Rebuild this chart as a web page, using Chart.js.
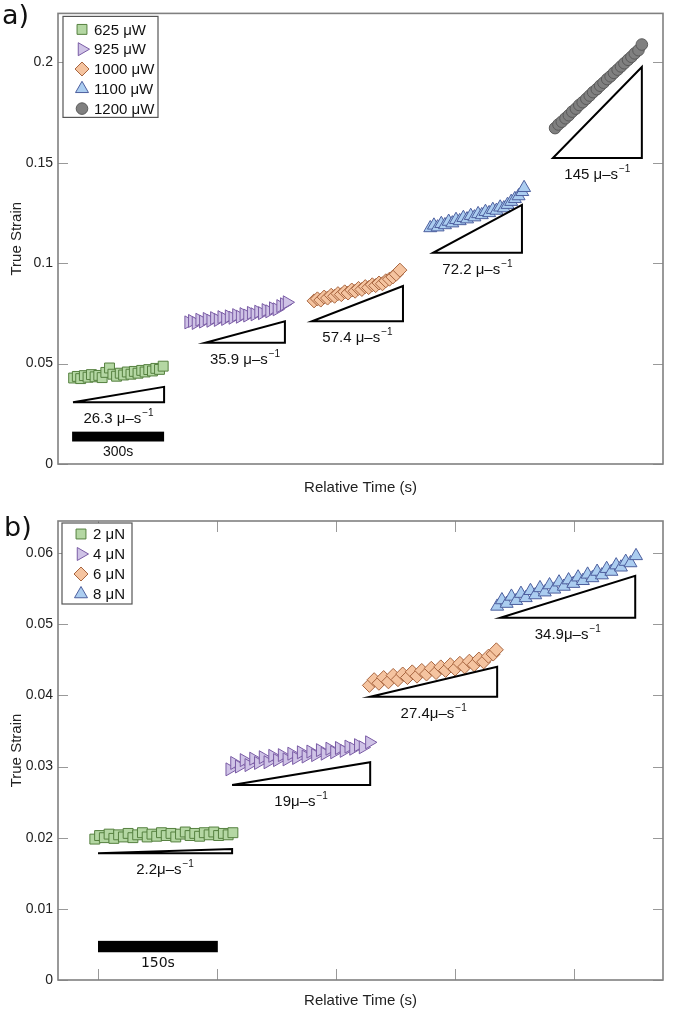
<!DOCTYPE html>
<html>
<head>
<meta charset="utf-8">
<script src="https://cdn.jsdelivr.net/npm/chart.js@4.4.1/dist/chart.umd.min.js"></script>
<style>
    html, body { margin: 0; padding: 0; background: #fff; }
    .panel { position: relative; width: 675px; }
    #wrapA { height: 500px; }
    #wrapB { height: 517px; }
    canvas { display: block; }
</style>
</head>
<body>
<div class="panel" id="wrapA"><canvas id="chartA" width="675" height="500"></canvas></div>
<div class="panel" id="wrapB"><canvas id="chartB" width="675" height="517"></canvas></div>
<script>
// ---------- panel a data (time in s, strain) ----------
const seriesA = ["625 \u03bcW", "925 \u03bcW", "1000 \u03bcW", "1100 \u03bcW", "1200 \u03bcW"];

const timeA625 = [5, 17, 28, 40, 52, 63, 75, 87, 98, 110, 122, 133, 145, 157, 168, 180, 192, 203, 215, 227, 238, 250, 262, 273, 285, 297];
const strainA625 = [0.0428, 0.0436, 0.0425, 0.0440, 0.0432, 0.0445, 0.0434, 0.0441, 0.0430, 0.0456, 0.0478, 0.0447, 0.0437, 0.0452, 0.0443, 0.0458, 0.0447, 0.0461, 0.0452, 0.0466, 0.0458, 0.0470, 0.0463, 0.0476, 0.0471, 0.0487];

const timeA925 = [380, 392, 404, 416, 428, 440, 452, 464, 476, 488, 500, 512, 524, 536, 548, 560, 572, 584, 596, 608, 620, 632, 644, 656, 668, 680, 692, 701];
const strainA925 = [0.0705, 0.0712, 0.0702, 0.0718, 0.0709, 0.0722, 0.0713, 0.0726, 0.0717, 0.0731, 0.0722, 0.0735, 0.0728, 0.0741, 0.0733, 0.0746, 0.0739, 0.0752, 0.0745, 0.0758, 0.0751, 0.0766, 0.0760, 0.0775, 0.0770, 0.0786, 0.0795, 0.0805];

const timeA1000 = [789, 800, 811, 822, 833, 845, 856, 867, 878, 889, 900, 912, 923, 934, 945, 956, 967, 979, 990, 1001, 1012, 1023, 1035, 1046, 1057, 1069];
const strainA1000 = [0.0812, 0.0822, 0.0816, 0.0831, 0.0826, 0.0840, 0.0835, 0.0848, 0.0843, 0.0857, 0.0851, 0.0866, 0.0860, 0.0874, 0.0869, 0.0883, 0.0878, 0.0892, 0.0888, 0.0901, 0.0897, 0.0912, 0.0920, 0.0931, 0.0945, 0.0965];

const timeA1100 = [1168, 1180, 1192, 1204, 1216, 1228, 1240, 1252, 1264, 1276, 1288, 1300, 1312, 1324, 1336, 1348, 1360, 1372, 1384, 1396, 1408, 1420, 1432, 1444, 1456, 1468, 1474];
const strainA1100 = [0.1175, 0.1188, 0.1179, 0.1196, 0.1190, 0.1207, 0.1199, 0.1216, 0.1210, 0.1226, 0.1219, 0.1236, 0.1229, 0.1245, 0.1240, 0.1256, 0.1250, 0.1266, 0.1262, 0.1278, 0.1274, 0.1291, 0.1306, 0.1320, 0.1334, 0.1355, 0.1375];

const timeA1200 = [1575, 1586, 1597, 1609, 1620, 1631, 1643, 1654, 1665, 1677, 1688, 1699, 1711, 1722, 1733, 1745, 1756, 1767, 1779, 1790, 1801, 1813, 1824, 1835, 1847, 1858];
const strainA1200 = [0.1672, 0.1690, 0.1704, 0.1721, 0.1736, 0.1754, 0.1769, 0.1787, 0.1801, 0.1818, 0.1834, 0.1851, 0.1866, 0.1883, 0.1898, 0.1916, 0.1930, 0.1947, 0.1963, 0.1979, 0.1995, 0.2012, 0.2027, 0.2044, 0.2060, 0.2088];

const yTicksA = [0, 0.05, 0.1, 0.15, 0.2];
const slopeTimeA = [[3, 300], [434, 694], [782, 1079], [1177, 1467], [1568, 1858]];
const slopeStrainA = [[0.0307, 0.0384], [0.0603, 0.0710], [0.0710, 0.0886], [0.1051, 0.1290], [0.1523, 0.1976]];
const slopeTextA = ["26.3 \u03bc\u2013s", "35.9 \u03bc\u2013s", "57.4 \u03bc\u2013s", "72.2 \u03bc\u2013s", "145 \u03bc\u2013s"];
const barTimeA = [0, 300];
const barStrainA = [0.0112, 0.0161];
const barTextA = "300s";

// ---------- panel b data ----------
const seriesB = ["2 \u03bcN", "4 \u03bcN", "6 \u03bcN", "8 \u03bcN"];

const timeB2 = [-4, 2, 8, 14, 20, 26, 32, 38, 44, 50, 56, 62, 68, 74, 80, 86, 92, 98, 104, 110, 116, 122, 128, 134, 140, 146, 152, 158, 164, 170];
const strainB2 = [0.0198, 0.0203, 0.0200, 0.0205, 0.0199, 0.0204, 0.0201, 0.0206, 0.0200, 0.0204, 0.0207, 0.0201, 0.0205, 0.0202, 0.0207, 0.0203, 0.0206, 0.0201, 0.0205, 0.0208, 0.0203, 0.0206, 0.0202, 0.0207, 0.0204, 0.0208, 0.0203, 0.0206, 0.0204, 0.0207];

const timeB4 = [166, 172, 178, 184, 190, 196, 202, 208, 214, 220, 226, 232, 238, 244, 250, 256, 262, 268, 274, 280, 286, 292, 298, 304, 310, 316, 322, 328, 334, 342];
const strainB4 = [0.0296, 0.0305, 0.0300, 0.0309, 0.0302, 0.0311, 0.0305, 0.0313, 0.0306, 0.0315, 0.0309, 0.0316, 0.0310, 0.0318, 0.0312, 0.0320, 0.0314, 0.0321, 0.0316, 0.0323, 0.0318, 0.0325, 0.0320, 0.0326, 0.0322, 0.0328, 0.0325, 0.0330, 0.0327, 0.0334];

const timeB6 = [342, 348, 354, 360, 366, 372, 378, 384, 390, 396, 402, 408, 414, 420, 426, 432, 438, 444, 450, 456, 462, 468, 474, 480, 486, 492, 498, 502];
const strainB6 = [0.0414, 0.0422, 0.0417, 0.0425, 0.0419, 0.0428, 0.0422, 0.0430, 0.0425, 0.0433, 0.0427, 0.0435, 0.0430, 0.0438, 0.0432, 0.0440, 0.0435, 0.0443, 0.0437, 0.0445, 0.0440, 0.0448, 0.0443, 0.0451, 0.0447, 0.0455, 0.0458, 0.0464];

const timeB8 = [503, 509, 515, 521, 527, 533, 539, 545, 551, 557, 563, 569, 575, 581, 587, 593, 599, 605, 611, 617, 623, 629, 635, 641, 647, 653, 659, 665, 671, 678];
const strainB8 = [0.0525, 0.0534, 0.0529, 0.0539, 0.0533, 0.0543, 0.0537, 0.0547, 0.0541, 0.0551, 0.0545, 0.0555, 0.0549, 0.0559, 0.0553, 0.0562, 0.0557, 0.0566, 0.0561, 0.0570, 0.0565, 0.0574, 0.0569, 0.0578, 0.0574, 0.0583, 0.0580, 0.0588, 0.0586, 0.0596];

const yTicksB = [0, 0.01, 0.02, 0.03, 0.04, 0.05, 0.06];
const xTicksB = [0, 150, 300, 450, 600];
const slopeTimeB = [[0, 169], [169, 343], [343, 503], [507, 677]];
const slopeStrainB = [[0.0178, 0.0184], [0.0274, 0.0306], [0.0398, 0.0440], [0.0509, 0.0568]];
const slopeTextB = ["2.2\u03bc\u2013s", "19\u03bc\u2013s", "27.4\u03bc\u2013s", "34.9\u03bc\u2013s"];
const barTimeB = [0, 151];
const barStrainB = [0.0039, 0.0055];
const barTextB = "150s";

// ---------- styles ----------
const SANS = '"Liberation Sans", Arial, Helvetica, sans-serif';
const VERD = '"DejaVu Sans", Verdana, sans-serif';

const markers = [
    { style: "rect", rot: 0, r: 7, bg: "#b4d7a3", border: "#55803f" },
    { style: "triangle", rot: 90, r: 7.5, bg: "#cfc3e6", border: "#7a5ca5" },
    { style: "rectRot", rot: 0, r: 7, bg: "#f5c4a0", border: "#a8653f" },
    { style: "triangle", rot: 0, r: 7.5, bg: "#abcdf0", border: "#4d5f9e" },
    { style: "circle", rot: 0, r: 5.8, bg: "#808080", border: "#5a5a5a" }
];

const makeSet = (label, times, strains, m) => ({
    label: label,
    data: times.map((t, i) => ({ x: t, y: strains[i] })),
    pointStyle: m.style,
    pointRotation: m.rot,
    pointRadius: m.r,
    pointHoverRadius: m.r,
    pointBackgroundColor: m.bg,
    pointBorderColor: m.border,
    pointBorderWidth: 1,
    showLine: false
});

const drawMarker = (ctx, m, x, y) => {
    ctx.save();
    ctx.fillStyle = m.bg;
    ctx.strokeStyle = m.border;
    ctx.lineWidth = 1;
    Chart.helpers.drawPoint(ctx, { pointStyle: m.style, rotation: m.rot, radius: m.r, borderWidth: 1 }, x, y);
    ctx.restore();
};

const drawRate = (ctx, text, cx, cy) => {
    ctx.save();
    ctx.fillStyle = "#111";
    ctx.font = "15px " + SANS;
    const w1 = ctx.measureText(text).width;
    ctx.font = "10px " + SANS;
    const w2 = ctx.measureText("\u22121").width;
    const x0 = cx - (w1 + w2 + 1) / 2;
    ctx.textAlign = "left";
    ctx.textBaseline = "alphabetic";
    ctx.font = "15px " + SANS;
    ctx.fillText(text, x0, cy + 5);
    ctx.font = "10px " + SANS;
    ctx.fillText("\u22121", x0 + w1 + 1, cy - 2);
    ctx.restore();
};

// frame, inward ticks, slope triangles, scale bar, legend and panel letter
const panelPlugin = (cfg) => ({
    id: "panel" + cfg.letter,
    beforeDatasetsDraw(chart) {
        const ctx = chart.ctx;
        const { left, right, top, bottom } = chart.chartArea;
        const xs = chart.scales.x, ys = chart.scales.y;
        ctx.save();
        ctx.strokeStyle = "#999";
        ctx.lineWidth = 1;
        ctx.beginPath();
        cfg.yTicks.forEach(v => {
            const p = Math.round(ys.getPixelForValue(v)) + 0.5;
            ctx.moveTo(left, p); ctx.lineTo(left + 10, p);
            ctx.moveTo(right - 10, p); ctx.lineTo(right, p);
        });
        cfg.xTicks.forEach(v => {
            const p = Math.round(xs.getPixelForValue(v)) + 0.5;
            ctx.moveTo(p, bottom); ctx.lineTo(p, bottom - 11);
            ctx.moveTo(p, top); ctx.lineTo(p, top + 11);
        });
        ctx.stroke();
        ctx.strokeStyle = "#808080";
        ctx.lineWidth = 1.6;
        ctx.strokeRect(left, top, right - left, bottom - top);
        ctx.restore();
    },
    afterDatasetsDraw(chart) {
        const ctx = chart.ctx;
        const { left, top } = chart.chartArea;
        const xs = chart.scales.x, ys = chart.scales.y;
        ctx.save();

        // slope triangles
        ctx.strokeStyle = "#000";
        ctx.lineWidth = 2;
        ctx.lineJoin = "miter";
        cfg.slopeTime.forEach((tt, i) => {
            const x0 = xs.getPixelForValue(tt[0]), x1 = xs.getPixelForValue(tt[1]);
            const y0 = ys.getPixelForValue(cfg.slopeStrain[i][0]), y1 = ys.getPixelForValue(cfg.slopeStrain[i][1]);
            ctx.beginPath();
            ctx.moveTo(x0, y0); ctx.lineTo(x1, y0); ctx.lineTo(x1, y1); ctx.closePath();
            ctx.stroke();
            drawRate(ctx, cfg.slopeText[i], (x0 + x1) / 2, y0 + 16);
        });

        // time scale bar
        const bx0 = xs.getPixelForValue(cfg.barTime[0]), bx1 = xs.getPixelForValue(cfg.barTime[1]);
        const by0 = ys.getPixelForValue(cfg.barStrain[0]), by1 = ys.getPixelForValue(cfg.barStrain[1]);
        ctx.fillStyle = "#000";
        ctx.fillRect(bx0, by1, bx1 - bx0, by0 - by1);
        ctx.font = cfg.barFont;
        ctx.textAlign = "center";
        ctx.textBaseline = "middle";
        ctx.fillStyle = "#111";
        ctx.fillText(cfg.barText, (bx0 + bx1) / 2, by0 + 11);

        // legend
        const lx = left + cfg.legend.dx, ly = top + cfg.legend.dy;
        ctx.fillStyle = "#fff";
        ctx.fillRect(lx, ly, cfg.legend.w, cfg.legend.h);
        ctx.strokeStyle = "#555";
        ctx.lineWidth = 1.2;
        ctx.strokeRect(lx, ly, cfg.legend.w, cfg.legend.h);
        cfg.names.forEach((name, i) => {
            const cy = ly + cfg.legend.first + i * cfg.legend.step;
            drawMarker(ctx, markers[i], lx + 19, cy);
            ctx.fillStyle = "#111";
            ctx.font = "15px " + SANS;
            ctx.textAlign = "left";
            ctx.textBaseline = "middle";
            ctx.fillText(name, lx + 31, cy + 1);
        });

        // panel letter
        ctx.fillStyle = "#111";
        ctx.font = "27px " + VERD;
        ctx.textAlign = "left";
        ctx.textBaseline = "middle";
        ctx.fillText(cfg.letter + ")", cfg.letterX, cfg.letterY);
        ctx.restore();
    }
});

const buildChart = (id, sets, cfg) => new Chart(document.getElementById(id), {
    type: "scatter",
    data: { datasets: sets },
    options: {
        responsive: false,
        animation: false,
        devicePixelRatio: 1,
        layout: { padding: { top: cfg.padTop, right: 12, bottom: 0, left: 0 } },
        plugins: { legend: { display: false }, tooltip: { enabled: false } },
        scales: {
            x: {
                type: "linear",
                min: cfg.xMin,
                max: cfg.xMax,
                grid: { display: false, drawTicks: false },
                border: { display: false },
                ticks: { display: false },
                afterBuildTicks: (scale) => { scale.ticks = cfg.xTicks.map(v => ({ value: v })); },
                afterFit: (scale) => { scale.height = cfg.xAxisH; },
                title: {
                    display: true,
                    text: "Relative Time (s)",
                    color: "#222",
                    font: { family: SANS, size: 15 },
                    padding: { top: 0, bottom: cfg.xTitlePad }
                }
            },
            y: {
                min: 0,
                max: cfg.yMax,
                grid: { display: false, drawTicks: false },
                border: { display: false },
                afterBuildTicks: (scale) => { scale.ticks = cfg.yTicks.map(v => ({ value: v })); },
                afterFit: (scale) => { scale.width = 58; },
                ticks: {
                    padding: 5,
                    color: "#222",
                    font: { family: SANS, size: 14 },
                    callback: (v) => String(v)
                },
                title: {
                    display: true,
                    text: "True Strain",
                    color: "#222",
                    font: { family: SANS, size: 15 },
                    padding: { top: 8, bottom: 0 }
                }
            }
        }
    },
    plugins: [panelPlugin(cfg)]
});

buildChart("chartA", [
    makeSet(seriesA[0], timeA625, strainA625, markers[0]),
    makeSet(seriesA[1], timeA925, strainA925, markers[1]),
    makeSet(seriesA[2], timeA1000, strainA1000, markers[2]),
    makeSet(seriesA[3], timeA1100, strainA1100, markers[3]),
    makeSet(seriesA[4], timeA1200, strainA1200, markers[4])
], {
    letter: "a", letterX: 2, letterY: 17,
    padTop: 3, xAxisH: 36, xTitlePad: 3,
    xMin: -46, xMax: 1927, yMax: 0.2243,
    yTicks: yTicksA, xTicks: [],
    slopeTime: slopeTimeA, slopeStrain: slopeStrainA, slopeText: slopeTextA,
    barTime: barTimeA, barStrain: barStrainA, barText: barTextA, barFont: "14px " + SANS,
    names: seriesA,
    legend: { dx: 5, dy: 3, w: 95, h: 101, first: 13, step: 19.8 }
});

buildChart("chartB", [
    makeSet(seriesB[0], timeB2, strainB2, markers[0]),
    makeSet(seriesB[1], timeB4, strainB4, markers[1]),
    makeSet(seriesB[2], timeB6, strainB6, markers[2]),
    makeSet(seriesB[3], timeB8, strainB8, markers[3])
], {
    letter: "b", letterX: 4, letterY: 29,
    padTop: 21, xAxisH: 37, xTitlePad: 7,
    xMin: -50.4, xMax: 712, yMax: 0.0645,
    yTicks: yTicksB, xTicks: xTicksB,
    slopeTime: slopeTimeB, slopeStrain: slopeStrainB, slopeText: slopeTextB,
    barTime: barTimeB, barStrain: barStrainB, barText: barTextB, barFont: "14px " + VERD,
    names: seriesB,
    legend: { dx: 4, dy: 2, w: 70, h: 81, first: 11, step: 20 }
});
</script>
</body>
</html>
